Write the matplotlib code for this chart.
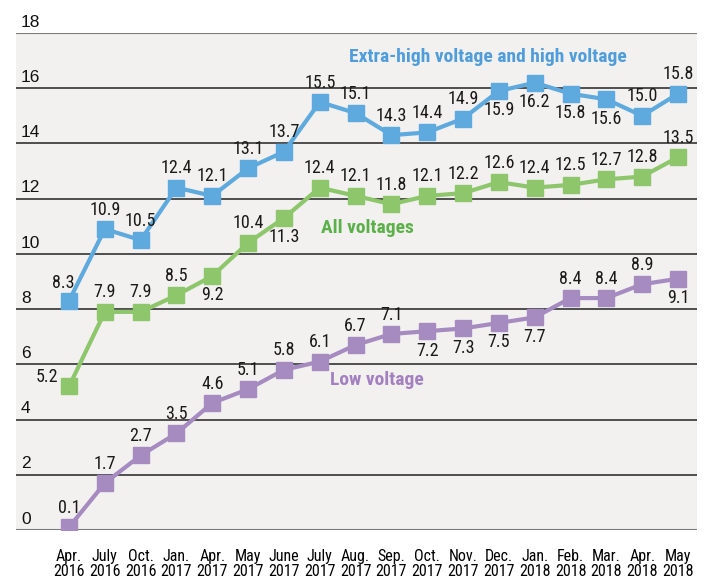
import numpy as np
import matplotlib
matplotlib.use('Agg')
import matplotlib.pyplot as plt
import matplotlib.transforms as mtransforms

months = ['Apr.\n2016', 'July\n2016', 'Oct.\n2016', 'Jan.\n2017', 'Apr.\n2017', 'May\n2017',
          'June\n2017', 'July\n2017', 'Aug.\n2017', 'Sep.\n2017', 'Oct.\n2017', 'Nov.\n2017',
          'Dec.\n2017', 'Jan.\n2018', 'Feb.\n2018', 'Mar.\n2018', 'Apr.\n2018', 'May\n2018']
high = [8.3, 10.9, 10.5, 12.4, 12.1, 13.1, 13.7, 15.5, 15.1, 14.3, 14.4, 14.9,
        15.9, 16.2, 15.8, 15.6, 15.0, 15.8]
allv = [5.2, 7.9, 7.9, 8.5, 9.2, 10.4, 11.3, 12.4, 12.1, 11.8, 12.1, 12.2,
        12.6, 12.4, 12.5, 12.7, 12.8, 13.5]
low = [0.1, 1.7, 2.7, 3.5, 4.6, 5.1, 5.8, 6.1, 6.7, 7.1, 7.2, 7.3,
       7.5, 7.7, 8.4, 8.4, 8.9, 9.1]
yticks = [0, 2, 4, 6, 8, 10, 12, 14, 16, 18]

# label side: 1 above, -1 below
high_pos = [1]*12 + [-1, -1, -1, -1, 1, 1]
all_pos = [1, 1, 1, 1, -1, 1, -1] + [1]*11
low_pos = [1]*10 + [-1, -1, -1, -1, 1, 1, 1, -1]

cond = 'Roboto Condensed'

c_high = '#5ea9dd'
c_all = '#8dc66b'
c_low = '#a68bc0'

fig = plt.figure(figsize=(7.04, 5.79), dpi=100)
ax = fig.add_axes([16/704, 1-530/579, 681/704, 497/579])
ax.set_facecolor('#f2f1f0')
ax.set_xlim(-1.48, 17.53)
ax.set_ylim(0, 18)

trans = mtransforms.blended_transform_factory(ax.transAxes, ax.transData)
for v in yticks:
    col = '#7a7a7a' if v in (0, 18) else '#333333'
    ax.axhline(v, color=col, lw=1.5 if v in (0, 18) else 1.2, zorder=1)
    ax.text(5/681, v + 0.12, str(v), transform=trans,
            fontsize=12.5, family='Liberation Sans', color='#111111', va='bottom', ha='left')

x = np.arange(len(months))
for vals, col, pos in [(high, c_high, high_pos), (allv, c_all, all_pos), (low, c_low, low_pos)]:
    ax.plot(x, vals, color=col, lw=3, marker='s', markersize=12, zorder=3)
    for xi, v, p in zip(x, vals, pos):
        dx, dy = 0, (14 if p > 0 else -14)
        if xi == 0 and col == c_high:
            dx, dy = -4, 13
        if xi == 0 and col == c_all:
            dx, dy = -16, 7
        ax.annotate(f'{v:.1f}', (xi, v), xytext=(dx, dy), textcoords='offset points',
                    ha='center', va='center', fontsize=13, family=cond, color='#1a1a1a', zorder=4)

ax.text(11.69, 17.14, 'Extra-high voltage and high voltage', color='#4f9ddb', fontsize=14,
        fontweight='bold', family=cond, ha='center', va='center')
ax.text(8.34, 10.94, 'All voltages', color='#5bb04a', fontsize=14,
        fontweight='bold', family=cond, ha='center', va='center')
ax.text(8.6, 5.43, 'Low voltage', color='#a381bf', fontsize=14,
        fontweight='bold', family=cond, ha='center', va='center')

ax.set_xticks(x)
ax.set_xticklabels(months, fontsize=11.5, family=cond, linespacing=0.95)
ax.tick_params(axis='x', length=0, pad=14)
ax.set_yticks([])
for s in ax.spines.values():
    s.set_visible(False)

fig.savefig('out.png', dpi=100)
